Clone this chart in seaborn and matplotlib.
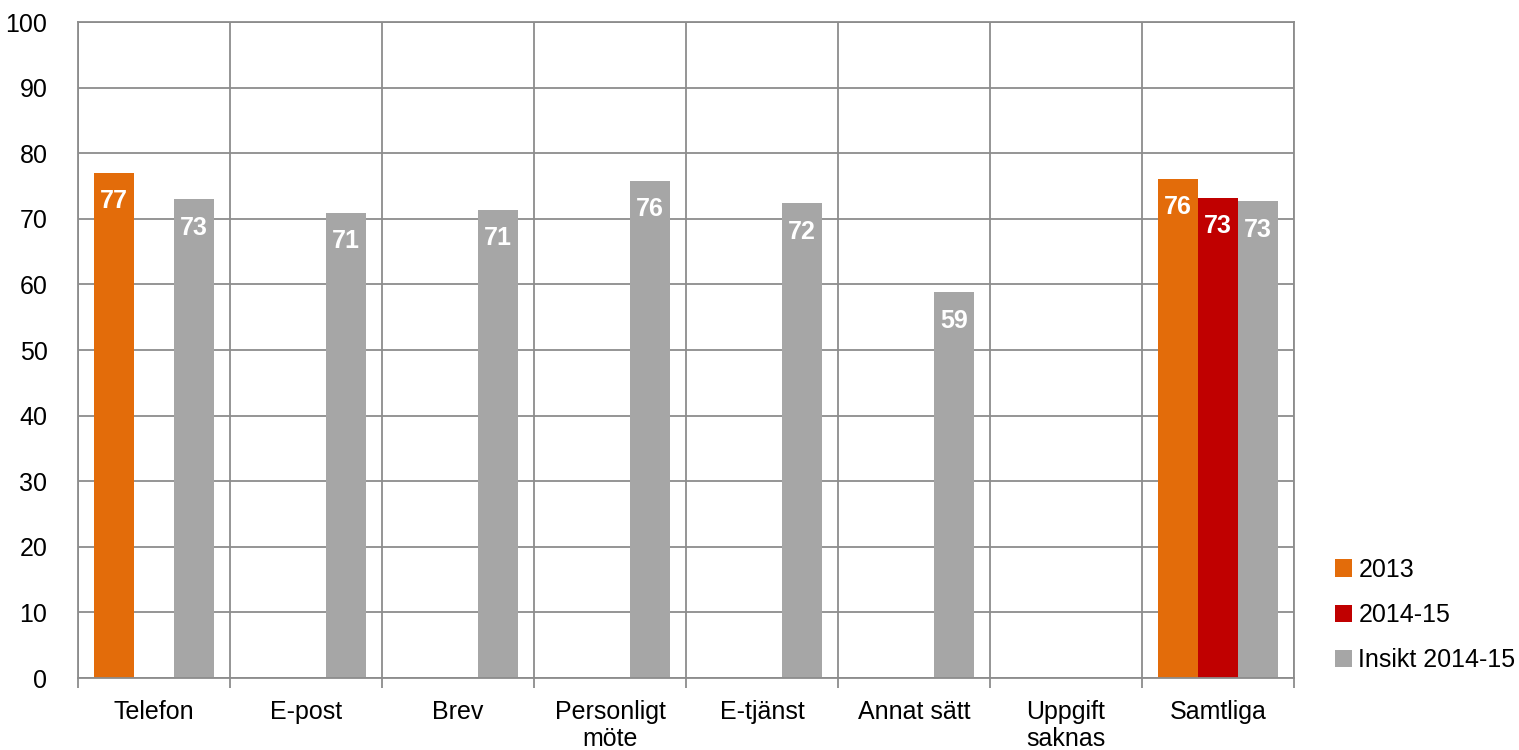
import numpy as np
import pandas as pd
import seaborn as sns
import matplotlib.pyplot as plt
from matplotlib.patches import Patch

CATEGORIES = ["Telefon", "E-post", "Brev", "Personligt\nmöte", "E-tjänst",
              "Annat sätt", "Uppgift\nsaknas", "Samtliga"]
SERIES = ["2013", "2014-15", "Insikt 2014-15"]
COLORS = ["#E36C0A", "#C00000", "#A6A6A6"]

VALUES_2013 = [77.0, np.nan, np.nan, np.nan, np.nan, np.nan, np.nan, 76.1]
VALUES_2014_15 = [np.nan, np.nan, np.nan, np.nan, np.nan, np.nan, np.nan, 73.2]
VALUES_INSIKT = [73.0, 70.9, 71.4, 75.8, 72.4, 58.8, np.nan, 72.7]


def build_frame() -> pd.DataFrame:
    rows = []
    for name, vals in zip(SERIES, [VALUES_2013, VALUES_2014_15, VALUES_INSIKT]):
        for cat, v in zip(CATEGORIES, vals):
            rows.append({"kategori": cat, "serie": name, "varde": v})
    return pd.DataFrame(rows)


def main():
    sns.set_style("white")
    plt.rcParams["font.family"] = ["Liberation Sans", "DejaVu Sans"]
    plt.rcParams["text.color"] = "black"
    plt.rcParams["xtick.color"] = "black"
    plt.rcParams["ytick.color"] = "black"

    df = build_frame()

    fig = plt.figure(figsize=(15.19, 7.5), dpi=100)
    ax = fig.add_axes([78 / 1519, 72 / 750, (1294 - 78) / 1519, (678 - 22) / 750])

    sns.barplot(data=df.dropna(), x="kategori", y="varde", hue="serie",
                order=CATEGORIES, hue_order=SERIES, palette=COLORS,
                width=0.79, saturation=1, errorbar=None, legend=False,
                edgecolor="none", linewidth=0, ax=ax)

    # white data labels inside the top of each bar
    for container in ax.containers:
        for bar in container:
            h = bar.get_height()
            if np.isnan(h) or h == 0:
                continue
            ax.annotate(f"{h:.0f}", (bar.get_x() + bar.get_width() / 2, h),
                        xytext=(0, -20.5), textcoords="offset points",
                        ha="center", va="center", color="white",
                        fontsize=18, fontweight="bold")

    grid_color = "#8C8C8C"
    ax.set_ylim(0, 100)
    ax.set_xlim(-0.5, len(CATEGORIES) - 0.5)
    ax.set_yticks(range(0, 101, 10))
    ax.yaxis.grid(True, color=grid_color, linewidth=1.3)
    for x in np.arange(-0.5, len(CATEGORIES), 1.0):
        ax.axvline(x, color=grid_color, linewidth=1.3, zorder=0.5)
    ax.set_axisbelow(True)

    ax.set_xticks(range(len(CATEGORIES)))
    ax.set_xticklabels(CATEGORIES, fontsize=18, linespacing=1.15, va="top")
    ax.set_xticks(np.arange(-0.5, len(CATEGORIES), 1.0), minor=True)
    ax.tick_params(axis="x", which="major", bottom=True, length=0, pad=16)
    ax.tick_params(axis="x", which="minor", bottom=True, direction="out",
                   length=7, width=1.3, color=grid_color)
    ax.tick_params(axis="y", length=0, pad=22, labelsize=18)

    ax.set_xlabel("")
    ax.set_ylabel("")
    for side in ax.spines:
        ax.spines[side].set_color(grid_color)
        ax.spines[side].set_linewidth(1.3)

    handles = [Patch(facecolor=c, edgecolor="none") for c in COLORS]
    fig.legend(handles, SERIES, loc="center left", bbox_to_anchor=(1322 / 1519, 1 - 615 / 750),
               frameon=False, fontsize=18, handlelength=0.7, handleheight=0.7,
               handletextpad=0.25, labelspacing=0.85, borderpad=0)

    fig.savefig("out.png", dpi=100)


if __name__ == "__main__":
    main()
